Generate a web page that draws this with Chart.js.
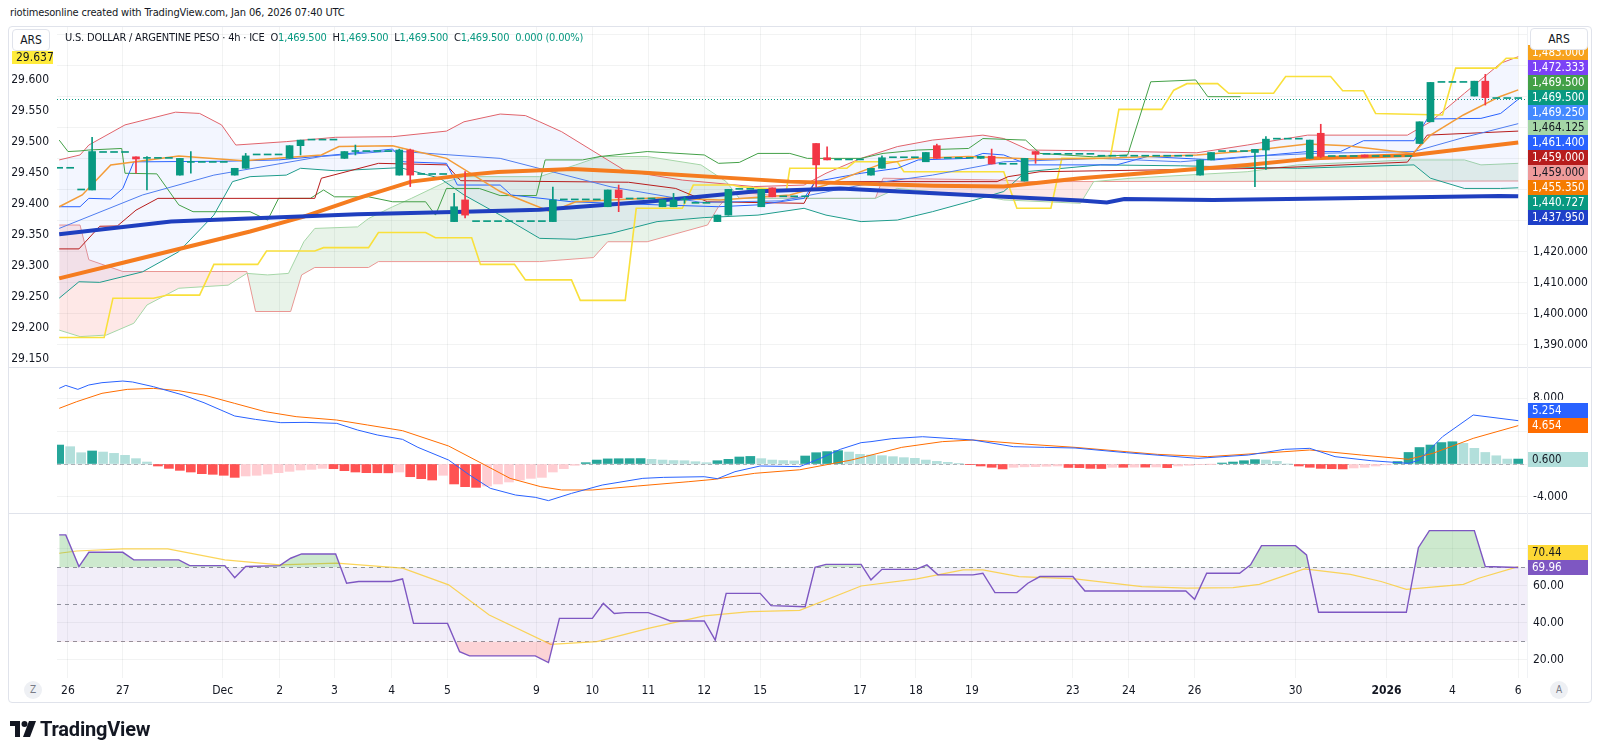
<!DOCTYPE html>
<html>
<head>
<meta charset="utf-8">
<script src="https://cdn.jsdelivr.net/npm/chart.js@4.4.1/dist/chart.umd.min.js"></script>
<style>
  body { margin:0; width:1600px; height:756px; background:#fff; position:relative; overflow:hidden;
         font-family:'Liberation Sans Narrow','DejaVu Sans Condensed',Roboto,sans-serif; color:#131722; }
  .abs { position:absolute; }
  #credit { left:10px; top:4px; font-size:11px; letter-spacing:-0.15px; line-height:18px; white-space:nowrap; }
  #frame { left:8px; top:26px; width:1584px; height:677px; border:1px solid #e0e3eb; border-radius:4px; box-sizing:border-box; }
  canvas { position:absolute; }
  .sep { position:absolute; left:8px; width:1584px; height:1px; background:#e0e3eb; }
  .ars { position:absolute; height:22px; border:1px solid #e0e3eb; border-radius:4px; background:#fff;
         font-size:12px; line-height:20px; text-align:center; box-sizing:border-box; }
  #title { left:65px; top:29px; font-size:11px; letter-spacing:-0.2px; line-height:17px; white-space:pre; }
  #title .v { color:#089981; }
  .btn { position:absolute; width:18px; height:18px; border-radius:50%; background:#eef0f4; font-size:10px;
         line-height:18px; text-align:center; color:#787b86; }
  #logo { left:10px; top:716px; height:26px; display:flex; align-items:center; gap:4px; }
  #logo span { font-family:Roboto,'Noto Sans',sans-serif; font-weight:bold; font-size:20px; color:#131722; letter-spacing:-0.2px; }
</style>
</head>
<body>
<div id="credit" class="abs">riotimesonline created with TradingView.com, Jan 06, 2026 07:40 UTC</div>
<div id="frame" class="abs"></div>

<canvas id="mainChart" width="1580" height="340" style="left:12px;top:27px;width:1580px;height:340px"></canvas>
<canvas id="macdChart" width="1580" height="145" style="left:12px;top:368px;width:1580px;height:145px"></canvas>
<canvas id="rsiChart" width="1580" height="188" style="left:12px;top:514px;width:1580px;height:188px"></canvas>

<div class="sep" style="top:367px"></div>
<div class="sep" style="top:513px"></div>
<div class="abs" style="left:1527px;top:27px;width:1px;height:651px;background:#f0f2f5"></div>

<div class="ars" style="left:12px;top:29px;width:38px">ARS</div>
<div class="ars" style="left:1530px;top:28px;width:58px">ARS</div>
<div id="title" class="abs">U.S. DOLLAR / ARGENTINE PESO · 4h · ICE  O<span class="v">1,469.500</span>  H<span class="v">1,469.500</span>  L<span class="v">1,469.500</span>  C<span class="v">1,469.500</span>  <span class="v">0.000 (0.00%)</span></div>

<div class="btn" style="left:24px;top:681px">Z</div>
<div class="btn" style="left:1550px;top:681px">A</div>

<div id="logo" class="abs">
  <svg width="26" height="16" viewBox="0 0 26 16"><path d="M0 0h10v16H5V5H0z" fill="#131722"/><circle cx="14.5" cy="3" r="3" fill="#131722"/><path d="M19 0h7l-6 16h-7z" fill="#131722"/></svg>
  <span>TradingView</span>
</div>

<script>
/* ── DATA ── */
// x = 4h bar index (0 = first bar on screen)
const X_TICKS = [0.8, 5.8, 14.9, 20.1, 25.1, 30.3, 35.4, 43.5, 48.6, 53.7, 58.8, 63.9, 73, 78.1, 83.2, 92.4, 97.5, 103.5, 112.7, 121, 127, 133];
const X_LABELS = ['26', '27', 'Dec', '2', '3', '4', '5', '9', '10', '11', '12', '15', '17', '18', '19', '23', '24', '26', '30', '2026', '4', '6'];

// [bar, open, high, low, close]
const CANDLES = [
  [3, 1440.0, 1457.0, 1440.0, 1452.4], [7, 1450.7, 1450.7, 1445.4, 1450.0], [8, 1450.2, 1450.8, 1440.0, 1450.2],
  [11, 1444.8, 1450.2, 1444.8, 1450.2], [12, 1448.9, 1452.4, 1445.4, 1448.9], [16, 1444.8, 1447.0, 1444.8, 1447.0],
  [17, 1447.0, 1451.8, 1447.0, 1451.0], [21, 1450.2, 1454.3, 1450.2, 1454.3], [22, 1454.3, 1456.1, 1451.3, 1456.1],
  [26, 1450.2, 1452.4, 1450.2, 1452.4], [27, 1452.4, 1454.5, 1451.3, 1452.4], [31, 1444.8, 1453.2, 1444.8, 1452.9],
  [32, 1452.9, 1453.2, 1441.1, 1444.8], [36, 1429.8, 1438.9, 1429.8, 1434.6], [37, 1436.8, 1445.9, 1431.0, 1431.9],
  [45, 1429.8, 1440.9, 1429.8, 1436.8], [50, 1434.6, 1440.0, 1434.6, 1440.0], [51, 1440.0, 1441.6, 1433.0, 1437.5],
  [55, 1434.6, 1436.8, 1434.6, 1436.8], [56, 1434.6, 1438.9, 1434.6, 1436.8], [57, 1436.8, 1437.8, 1435.7, 1436.8],
  [60, 1429.8, 1431.9, 1429.8, 1431.9], [61, 1431.9, 1440.2, 1431.9, 1440.2], [64, 1434.6, 1440.2, 1434.6, 1440.2],
  [65, 1440.7, 1440.7, 1437.8, 1437.8], [69, 1455.0, 1455.0, 1441.1, 1448.1], [70, 1450.4, 1453.9, 1449.7, 1449.7],
  [74, 1444.8, 1447.0, 1444.8, 1447.0], [75, 1447.0, 1451.0, 1447.0, 1450.4], [79, 1449.1, 1452.1, 1449.1, 1452.1],
  [80, 1454.3, 1454.8, 1450.2, 1450.2], [84, 1450.2, 1450.9, 1450.2, 1450.9], [85, 1450.9, 1453.2, 1448.4, 1448.4],
  [88, 1442.9, 1450.2, 1442.9, 1450.2], [89, 1452.4, 1452.4, 1448.6, 1451.5], [104, 1444.8, 1449.7, 1444.8, 1449.7],
  [105, 1449.7, 1452.1, 1449.7, 1452.1], [109, 1452.1, 1453.1, 1441.1, 1453.1], [110, 1452.9, 1457.2, 1446.6, 1456.4],
  [114, 1450.2, 1456.1, 1450.2, 1456.1], [115, 1458.3, 1461.2, 1450.4, 1450.8], [119, 1451.3, 1451.3, 1450.6, 1450.6],
  [124, 1455.0, 1462.0, 1455.0, 1462.0], [125, 1462.0, 1474.7, 1462.0, 1474.7], [129, 1470.3, 1475.1, 1470.3, 1475.1],
  [130, 1475.1, 1477.3, 1467.4, 1469.8]
];
// runs of bars with no movement: [firstBar, lastBar, price]
const FLAT_RUNS = [
  [0, 1, 1447.0], [2, 2, 1440.0], [4, 6, 1452.1], [9, 10, 1450.2], [13, 15, 1448.9], [18, 20, 1451.3],
  [23, 25, 1456.1], [28, 30, 1452.4], [33, 35, 1445.0], [38, 44, 1429.8], [46, 49, 1436.8], [52, 54, 1437.1],
  [58, 59, 1435.7], [62, 63, 1440.2], [66, 68, 1437.8], [71, 73, 1449.7], [76, 78, 1450.4], [81, 83, 1450.2],
  [86, 87, 1448.3], [90, 94, 1451.5], [95, 103, 1450.9], [106, 108, 1452.4], [111, 113, 1456.4],
  [116, 118, 1450.8], [120, 123, 1450.8], [126, 128, 1474.7], [131, 133, 1469.5]
];
const LAST_PRICE = 1469.5;

// overlays, [bar, value]
const EMA_SLOW = [[0,1425.7],[10.2,1429.8],[27.2,1432.2],[36.9,1433.0],[43.8,1433.6],[53.6,1436.2],[63.3,1439.5],[71.2,1440.5],[82.9,1438.4],[93.1,1436.6],[95.5,1436.0],[97.1,1437.1],[105.2,1436.8],[120.4,1437.5],[131.3,1438.1],[133,1437.95]];
const EMA_MID = [[0,1411.5],[6,1416.7],[17.4,1426.6],[22.3,1431.4],[27.2,1437.3],[32.1,1442.7],[36.9,1444.8],[40,1445.8],[46.8,1446.8],[51.9,1445.9],[66.6,1442.7],[79.7,1441.4],[86.1,1441.1],[93.1,1443.8],[108.3,1448.1],[114.3,1450.2],[123.4,1451.3],[133,1455.35]];
const BB_BASIS = [[0,1434.6],[2.1,1438.4],[4.7,1448.1],[10.9,1451.0],[16.8,1449.4],[23.9,1451.3],[25.5,1454.0],[30.4,1454.3],[31.4,1453.4],[35.3,1450.2],[40.2,1439.5],[44.8,1433.0],[47.1,1436.2],[54.6,1437.5],[60.2,1436.8],[66.6,1438.4],[69.9,1441.6],[74.7,1448.1],[78,1450.2],[82.9,1450.8],[89.4,1449.9],[94.9,1450.2],[103.7,1451.3],[108.3,1452.6],[113.8,1454.8],[117.4,1454.3],[123.4,1451.8],[125,1457.7],[128,1464.2],[131.3,1470.1],[133,1472.3]];
const BB_UPPER = [[0,1449.7],[1.9,1451.3],[2.7,1454.5],[6,1461.0],[10.6,1465.1],[12.8,1464.7],[14.8,1461.0],[16.1,1454.5],[20.7,1455.6],[25.2,1457.0],[30.4,1457.2],[35.3,1459.0],[36.9,1462.0],[40.2,1464.5],[42.5,1464.0],[43.8,1462.0],[45.8,1458.8],[51.6,1446.2],[56.8,1443.2],[63.3,1441.1],[67.9,1441.6],[69.9,1445.4],[73.1,1450.2],[76.4,1454.0],[79.6,1456.1],[84.2,1457.7],[86.1,1456.6],[88.4,1452.9],[94.9,1452.6],[97.7,1452.4],[103.7,1452.0],[108.3,1454.5],[113.8,1457.7],[122.9,1457.7],[125,1462.0],[128.1,1471.2],[131.4,1480.9],[133,1483.0]];
const BB_LOWER = [[0,1405.1],[1.8,1410.4],[3.7,1410.2],[7.6,1413.6],[10.9,1420.1],[14.1,1431.9],[15.8,1442.7],[17.4,1444.3],[20.7,1444.8],[22,1447.0],[25.2,1446.2],[31.1,1447.2],[34.7,1443.8],[36.9,1438.4],[40.2,1431.9],[43.8,1424.4],[47.1,1424.1],[50.3,1426.0],[54.5,1429.8],[58.8,1431.1],[63.7,1431.9],[67.9,1434.1],[69.9,1431.9],[73.1,1429.8],[76.4,1430.3],[79.6,1433.0],[82.9,1436.2],[86.1,1439.5],[88.1,1445.9],[94.9,1448.1],[102.2,1447.8],[112.9,1447.0],[123.5,1448.1],[125,1443.8],[128.1,1440.5],[131.4,1440.5],[133,1440.7]];
const SMA_BLUE = [[0,1427.6],[7.6,1438.4],[14.1,1444.8],[23.9,1450.8],[30.4,1452.6],[40.2,1450.2],[50.3,1441.0],[58.5,1436.0],[65.8,1436.5],[73.1,1441.6],[79.6,1444.8],[86.1,1449.1],[94.9,1450.2],[102.2,1449.1],[108.3,1450.8],[114.4,1451.8],[123.5,1452.4],[128.1,1457.0],[133,1461.4]];
const ICH_CONV = [[0,1434.6],[1.9,1434.6],[2.7,1437.3],[4.7,1437.1],[5.8,1440.5],[6.8,1449.1],[8,1449.1],[15.4,1449.3],[20,1449.7],[25.6,1451.5],[30.4,1453.2],[31.4,1449.1],[35.3,1448.6],[36.3,1441.6],[40.2,1441.6],[41.2,1438.4],[46.7,1436.2],[54.6,1435.2],[60.1,1434.6],[63.7,1435.2],[67.9,1437.3],[68.9,1442.7],[73.1,1445.4],[76.4,1447.0],[78.3,1449.7],[82.9,1450.2],[84.2,1451.8],[86.1,1451.3],[88.4,1448.1],[96.4,1448.1],[99.2,1450.8],[105.3,1449.7],[113.8,1452.4],[116.8,1452.4],[118.9,1455.9],[123.5,1455.9],[124.7,1462.9],[129.6,1463.1],[131.4,1464.7],[133,1469.25]];
const ICH_BASE = [[0,1421.0],[1.8,1421.0],[3.7,1428.3],[5.3,1428.4],[7,1433.5],[9,1437.3],[23.3,1437.3],[23.9,1443.8],[29.1,1448.6],[35.3,1448.1],[36.6,1443.0],[51.9,1442.5],[56.2,1440.5],[59.1,1436.2],[67.9,1435.7],[68.9,1442.7],[85.5,1442.7],[86.5,1444.3],[89.4,1445.9],[94.9,1446.2],[110,1447.0],[122.9,1449.0],[124.7,1457.7],[133,1459.0]];
const ICH_LAG = [[0,1456.1],[0.8,1452.4],[1.9,1452.6],[2.7,1452.9],[5.7,1453.4],[6,1445.4],[8.9,1445.2],[10.9,1435.2],[12.2,1433.0],[17.4,1433.0],[19,1430.3],[20,1437.3],[22.9,1437.3],[24.1,1440.0],[25.1,1437.8],[28.2,1437.8],[30.4,1436.2],[33.4,1436.2],[34.3,1431.9],[35.3,1440.5],[38.3,1440.5],[40.2,1438.2],[43.5,1438.2],[44.3,1449.7],[47.7,1449.7],[49.3,1450.8],[53.6,1452.4],[58.8,1451.3],[60.1,1448.6],[62,1448.9],[63.7,1451.8],[66.6,1451.8],[68.2,1450.2],[73.1,1450.2],[75.1,1451.8],[78.3,1452.9],[82.9,1453.4],[84.2,1456.6],[88.1,1456.1],[89.4,1451.8],[94.3,1450.7],[97.4,1451.3],[99.5,1474.9],[103.6,1475.5],[104.7,1470.1],[107.7,1470.1]];
const SPAN_A = [[0,1394.8],[1.9,1392.7],[4.3,1393.2],[6.8,1397.0],[8,1402.9],[10.9,1408.3],[15.4,1409.3],[17.1,1413.1],[19,1412.6],[20.9,1413.1],[22.3,1423.3],[23.3,1427.6],[27.2,1428.1],[28.2,1430.8],[30.4,1434.6],[32.1,1437.3],[35.3,1442.7],[36.9,1444.3],[43.8,1444.3],[47.1,1448.1],[49.3,1450.8],[53.6,1450.8],[58.5,1448.1],[60.8,1442.7],[62,1437.3],[74.4,1437.3],[76.4,1440.5],[84.5,1437.8],[86.1,1436.8],[93.1,1435.7],[94.3,1442.7],[97.7,1443.8],[108.3,1445.9],[112.9,1448.1],[122.9,1449.7],[128.1,1449.7],[129.6,1448.1],[133,1448.6]];
const SPAN_B = [[0,1428.7],[1.9,1428.7],[2.7,1417.5],[5.8,1413.7],[17.1,1413.7],[17.9,1400.8],[21.1,1400.8],[22.1,1412.6],[23.3,1415.0],[28.2,1415.0],[29.1,1416.9],[43.8,1416.9],[48.7,1418.2],[50,1423.3],[53.6,1423.3],[59.1,1428.7],[60.1,1434.6],[61.4,1439.5],[67.9,1437.3],[74.4,1437.3],[75.1,1443.8],[86.1,1443.2],[88.1,1442.7],[133,1442.9]];
const YELLOW_LINE = [[0,1392.4],[4.1,1392.4],[4.9,1405.1],[8.6,1405.1],[9.9,1406.1],[12.8,1406.1],[14.1,1416.0],[18.1,1416.0],[18.9,1420.3],[23.3,1420.3],[24.1,1421.4],[28.2,1421.4],[29.1,1426.3],[33.4,1426.3],[34.3,1424.6],[37.6,1424.6],[38.4,1416.0],[41.5,1416.0],[42.5,1411.0],[46.7,1411.0],[47.5,1404.4],[51.6,1404.4],[52.6,1434.1],[56.8,1434.1],[57.8,1441.6],[61.4,1441.6],[62,1441.1],[66.3,1440.0],[66.6,1447.0],[71.8,1447.0],[72.5,1449.1],[76.4,1449.1],[77,1445.9],[86.1,1445.9],[87.3,1434.1],[90.4,1434.1],[91.4,1450.2],[95.8,1450.2],[96.6,1466.0],[100.5,1466.0],[101.6,1472.2],[102.8,1474.3],[105.6,1474.3],[106.6,1471.2],[110.7,1471.2],[111.8,1476.6],[115.9,1476.6],[117,1472.0],[118.9,1472.0],[120,1464.7],[126.1,1464.2],[127.3,1479.3],[131,1479.3],[131.9,1482.5],[133,1482.5]];

// price scale tags (last values)
const MAIN_TAGS = [1483.0, 1472.333, 1469.5, 1469.5, 1469.25, 1464.125, 1461.4, 1459.0, 1459.0, 1455.35, 1440.727, 1437.95];
const LEFT_TAG = 29.637;

// MACD pane
const MACD_HIST = [2.3,2.1,1.37,1.58,1.45,1.29,1.05,0.65,0.24,-0.24,-0.53,-0.77,-0.97,-1.17,-1.25,-1.37,-1.62,-1.45,-1.37,-1.21,
  -1.05,-0.89,-0.73,-0.65,-0.53,-0.57,-0.81,-0.97,-1.05,-1.06,-1.07,-0.97,-1.54,-1.78,-1.94,-1.37,-2.42,-2.75,-2.83,-2.67,
  -2.42,-2.18,-1.94,-1.74,-1.62,-0.97,-0.57,-0.16,0.16,0.48,0.62,0.64,0.65,0.66,0.57,0.48,0.42,0.40,0.28,0.16,
  0.40,0.57,0.85,0.92,0.65,0.48,0.42,0.38,0.97,1.37,1.5,1.62,1.45,1.17,1.09,1.01,0.89,0.77,0.69,0.48,
  0.32,0.2,0.08,-0.04,-0.24,-0.4,-0.6,-0.4,-0.34,-0.32,-0.28,-0.24,-0.42,-0.44,-0.53,-0.55,-0.4,-0.4,-0.38,-0.38,
  -0.36,-0.44,-0.24,-0.16,-0.08,-0.02,0.12,0.24,0.4,0.53,0.48,0.32,0.0,-0.24,-0.4,-0.53,-0.57,-0.6,-0.48,-0.4,
  -0.24,-0.1,0.3,1.4,2.0,2.3,2.6,2.7,2.5,1.9,1.4,1.0,0.6,0.6];
const MACD_LINE = [[0,9.17],[0.6,9.53],[1.7,9.05],[2.7,9.58],[3.9,9.86],[5.8,10.06],[6.7,9.94],[8.6,9.37],[11.3,8.36],[13.2,7.43],[16,5.82],[17.9,5.41],[20.2,5.01],[22.5,5.05],[25.3,4.93],[27.2,4.12],[29,3.52],[31.3,2.99],[32.7,2.02],[35.5,0.48],[37.4,-1.33],[39.3,-2.95],[41.6,-3.76],[43.4,-4.04],[44.6,-4.44],[46.7,-3.56],[49.5,-2.55],[53.2,-1.74],[55.1,-1.62],[58.8,-1.54],[60,-1.78],[61.6,-0.93],[63.9,-0.24],[67.5,-0.32],[69.4,0.69],[71.2,1.78],[73.1,2.59],[74,2.71],[75.9,3.07],[78.7,3.31],[81.5,3.07],[83.3,2.91],[87,2.1],[89.8,2.02],[92.6,1.94],[97.3,1.37],[103.8,0.69],[108.4,1.09],[111.7,1.78],[114,1.9],[116.3,0.89],[119.6,0.4],[123,0.08],[124,0.48],[126.1,3.31],[128.9,5.94],[133,5.254]];
const SIGNAL_LINE = [[0,6.75],[1.6,7.56],[3.9,8.57],[6.2,9.05],[8.6,9.17],[10.9,8.89],[13.2,8.36],[16,7.35],[18.8,6.34],[21.6,5.74],[25.3,5.33],[28.1,4.73],[31.3,4.04],[35.5,2.18],[38.8,-0.12],[41.1,-1.74],[43.9,-2.75],[45.8,-3.15],[48.6,-3.15],[52.7,-2.67],[57.4,-2.14],[59.7,-1.86],[63.4,-1.13],[67.5,-0.7],[72.2,0.48],[76.8,2.02],[80.5,2.71],[83.3,2.91],[88,2.42],[92.6,2.02],[100.1,1.17],[104.7,0.89],[109.4,1.29],[114,1.7],[118.7,1.09],[123,0.57],[125.2,1.29],[128.9,3.11],[133,4.654]];
const MACD_TAGS = [5.254, 4.654, 0.6];

// RSI pane
const RSI_LINE = [[0,87.6],[0.6,87.6],[1.8,70.5],[2.7,78.2],[5.8,78.2],[6.8,74.1],[10.9,74.1],[11.9,71.0],[15.1,71.0],[16,64.5],[17,70.5],[20.1,71.0],[21.1,75.0],[22.1,77.3],[25.2,77.3],[26.2,61.5],[27.3,62.4],[30.3,62.4],[31.3,63.8],[32.3,39.8],[35.4,39.8],[36.5,24.5],[37.4,22.2],[43.4,22.2],[44.6,18.6],[45.6,42.5],[48.6,42.5],[49.6,50.6],[50.6,45.1],[51.6,45.6],[53.7,45.6],[54.7,43.4],[55.7,41.1],[58.8,41.1],[59.8,30.8],[60.8,56.0],[63.9,56.0],[64.9,49.4],[68,48.8],[68.9,70.1],[69.9,71.7],[73.1,71.7],[74,63.3],[75,69.0],[78.1,69.0],[79.1,71.4],[80.1,66.0],[83.3,66.0],[84.2,66.9],[85.3,56.4],[87.3,56.4],[88.3,61.5],[89.4,65.1],[92.4,65.1],[93.5,57.3],[102.7,57.3],[103.5,52.8],[104.6,66.9],[107.6,66.9],[108.6,71.4],[109.6,81.8],[112.7,81.8],[113.7,76.8],[114.8,45.8],[122.8,45.8],[123.9,80.7],[124.9,89.9],[129,89.9],[130,70.5],[133,69.96]];
const RSI_MA = [[0,77.7],[1.6,78.9],[5.8,80.0],[9.9,80.0],[15.1,74.1],[20.1,71.4],[25.3,72.3],[31.3,69.6],[35.5,60.6],[39.2,44.3],[44.8,28.5],[49,29.9],[53.7,37.1],[58.8,43.8],[63,46.1],[67.5,46.8],[73.1,60.0],[78.2,63.8],[82.4,68.7],[84.2,68.7],[87.5,65.1],[92.6,63.8],[98.7,59.7],[102.8,58.8],[107,59.1],[109.4,60.9],[113.5,69.2],[117.7,66.3],[120.5,62.4],[122.8,58.2],[128,60.9],[129.4,64.2],[133,70.44]];
const RSI_TAGS = [70.44, 69.96];
const RSI_LEVELS = [70, 50, 30];

/* ── STYLE ── */
const FONT = "'Liberation Sans Narrow', 'DejaVu Sans Condensed', Roboto, sans-serif";
const GRID = 'rgba(42,46,57,0.06)';
const UP = '#089981', DOWN = '#f23645';
const MAIN_TAG_BG = ['#f7a21b', '#7b42f6', '#43a047', '#089981', '#448aff', '#a5d6a7', '#2962ff', '#b71c1c', '#ef9a9a', '#f57c00', '#089981', '#1e3fc8'];
const MAIN_TAG_FG = ['#fff', '#fff', '#fff', '#fff', '#fff', '#131722', '#fff', '#fff', '#131722', '#fff', '#fff', '#fff'];

Chart.defaults.font.family = FONT;
Chart.defaults.font.size = 12;
Chart.defaults.color = '#131722';
Chart.defaults.animation = false;
Chart.defaults.events = [];
Chart.defaults.plugins.legend.display = false;
Chart.defaults.plugins.tooltip.enabled = false;
Chart.defaults.elements.point.radius = 0;
Chart.defaults.elements.line.tension = 0;

const fmt = (v, d) => v.toLocaleString('en-US', { minimumFractionDigits: d, maximumFractionDigits: d });
const pts = arr => arr.map(([x, y]) => ({ x, y }));
const range = (a, b) => Array.from({ length: b - a + 1 }, (_, k) => a + k);

/* ── AXES ── */
function xAxis(showLabels) {
  return {
    type: 'linear', min: -0.2, max: 133.8, offset: false,
    afterBuildTicks: s => { s.ticks = X_TICKS.map(value => ({ value })); },
    afterFit: s => { s.height = showLabels ? 24 : 0; s.paddingLeft = 0; s.paddingRight = 0; },
    grid: { color: GRID, drawTicks: false, offset: false },
    border: { display: false },
    ticks: {
      display: showLabels, autoSkip: false, maxRotation: 0, padding: 6,
      callback: (v, i) => X_LABELS[i],
      font: c => ({ size: 12, family: FONT, weight: X_LABELS[c.index] === '2026' ? 'bold' : 'normal' })
    }
  };
}
function rightAxis(min, max, step, digits) {
  return {
    type: 'linear', position: 'right', min, max,
    afterFit: s => { s.width = 65; s.paddingTop = 0; s.paddingBottom = 0; },
    grid: { color: GRID, drawTicks: false },
    border: { display: false },
    ticks: { stepSize: step, includeBounds: false, padding: 6, callback: v => fmt(v, digits) }
  };
}

/* ── PLUGINS ── */
function tagPlugin(values, bg, fg, digits, minTop) {
  return {
    id: 'tags',
    afterDraw(chart) {
      const { ctx, chartArea: a } = chart, y = chart.scales.y, h = 15;
      const list = values.map((v, k) => ({ v, bg: bg[k], fg: fg[k], py: y.getPixelForValue(v) }));
      list.sort((p, q) => p.py - q.py);
      for (let k = list.length - 2; k >= 0; k--) list[k].py = Math.min(list[k].py, list[k + 1].py - h);
      if (list[0].py < a.top + minTop) list[0].py = a.top + minTop;
      for (let k = 1; k < list.length; k++) list[k].py = Math.max(list[k].py, list[k - 1].py + h);
      ctx.save();
      // axis labels hidden under a tag are cleared first
      ctx.fillStyle = '#fff';
      list.forEach(t => ctx.fillRect(a.right + 1, Math.round(t.py - h / 2) - 3, 62, h + 6));
      ctx.font = '11.5px ' + FONT;
      ctx.textBaseline = 'middle';
      list.forEach(t => {
        const top = Math.round(t.py - h / 2);
        ctx.fillStyle = t.bg;
        ctx.fillRect(a.right + 1, top, 60, h);
        ctx.fillStyle = t.fg;
        ctx.fillText(fmt(t.v, digits), a.right + 5, top + h / 2 + 0.5);
      });
      ctx.restore();
    }
  };
}
function levelPlugin(lines, band) {
  return {
    id: 'levels',
    beforeDatasetsDraw(chart) {
      const { ctx, chartArea: a } = chart, y = chart.scales.y;
      ctx.save();
      if (band) {
        const y1 = y.getPixelForValue(band.from), y2 = y.getPixelForValue(band.to);
        ctx.fillStyle = band.color;
        ctx.fillRect(a.left, Math.min(y1, y2), a.right - a.left, Math.abs(y2 - y1));
      }
      lines.forEach(l => {
        const py = Math.round(y.getPixelForValue(l.value)) + 0.5;
        ctx.strokeStyle = l.color;
        ctx.lineWidth = 1;
        ctx.setLineDash(l.dash);
        ctx.beginPath();
        ctx.moveTo(a.left, py);
        ctx.lineTo(a.right, py);
        ctx.stroke();
      });
      ctx.restore();
    }
  };
}
const leftTagPlugin = {
  id: 'leftTag',
  afterDraw(chart) {
    const { ctx } = chart, s = chart.scales.yl;
    const py = Math.round(s.getPixelForValue(LEFT_TAG));
    ctx.save();
    ctx.fillStyle = '#ffeb3b';
    ctx.fillRect(0, py - 6, 41, 13);
    ctx.fillStyle = '#131722';
    ctx.font = '12px ' + FONT;
    ctx.textBaseline = 'middle';
    ctx.fillText(LEFT_TAG.toFixed(3), 4, py + 0.5);
    ctx.restore();
  }
};

/* ── MAIN PANE ── */
function buildMainChart() {
  const bars = [
    ...CANDLES.map(([i, o, h, l, c]) => ({ i, o, h, l, c })),
    ...FLAT_RUNS.flatMap(([a, b, p]) => range(a, b).map(i => ({ i, o: p, h: p, l: p, c: p })))
  ];
  const wicks = bars.filter(b => b.h > b.l);
  const line = (label, data, color, width, extra = {}) => ({
    type: 'line', label, data: pts(data), borderColor: color, borderWidth: width,
    pointRadius: 0, fill: false, yAxisID: 'y', ...extra
  });
  const ds = [
    { type: 'bar', label: 'body', data: bars.map(b => ({ x: b.i, y: [b.o, b.c] })),
      backgroundColor: bars.map(b => b.c < b.o ? DOWN : UP), barThickness: 7, minBarLength: 1,
      grouped: false, borderWidth: 0, yAxisID: 'y' },
    { type: 'bar', label: 'wick', data: wicks.map(b => ({ x: b.i, y: [b.l, b.h] })),
      backgroundColor: wicks.map(b => b.c < b.o ? DOWN : UP), barThickness: 1,
      grouped: false, borderWidth: 0, yAxisID: 'y' },
    line('emaSlow', EMA_SLOW, '#1f3fbf', 4),
    line('emaMid', EMA_MID, '#f57c1f', 4),
    line('bbBasis', BB_BASIS, '#f39c38', 1.5),
    line('sma', SMA_BLUE, '#4f7df0', 1),
    line('conv', ICH_CONV, '#2962ff', 1),
    line('base', ICH_BASE, '#b71c1c', 1),
    line('lag', ICH_LAG, '#43a047', 1),
    line('yellow', YELLOW_LINE, '#f9e03b', 1.6),
    line('bbUpper', BB_UPPER, '#e0636b', 1, { backgroundColor: 'rgba(41,98,255,0.055)' }),
    line('bbLower', BB_LOWER, '#1f9e89', 1),
    line('spanA', SPAN_A, '#a5d6a7', 1),
    line('spanB', SPAN_B, '#ef9a9a', 1)
  ];
  const at = name => ds.findIndex(d => d.label === name);
  ds[at('bbUpper')].fill = { target: at('bbLower') };
  ds[at('spanA')].fill = { target: at('spanB'), above: 'rgba(67,160,71,0.12)', below: 'rgba(244,67,54,0.12)' };

  new Chart(document.getElementById('mainChart'), {
    type: 'line',
    data: { datasets: ds },
    options: {
      responsive: false,
      layout: { padding: 0 },
      scales: {
        x: xAxis(false),
        y: rightAxis(1382.9, 1492.58, 10, 3),
        yl: {
          type: 'linear', position: 'left', min: 29.1371, max: 29.6855,
          afterBuildTicks: s => { s.ticks = s.ticks.filter(t => t.value <= 29.6 + 1e-6); },
          afterFit: s => { s.width = 45; s.paddingTop = 0; s.paddingBottom = 0; },
          grid: { display: false, drawTicks: false },
          border: { display: false },
          ticks: { stepSize: 0.05, includeBounds: false, padding: 8, callback: v => v.toFixed(3) }
        }
      }
    },
    plugins: [
      levelPlugin([{ value: LAST_PRICE, color: '#089981', dash: [1, 2] }]),
      tagPlugin(MAIN_TAGS, MAIN_TAG_BG, MAIN_TAG_FG, 3, 25),
      leftTagPlugin
    ]
  });
}

/* ── MACD PANE ── */
function buildMacdChart() {
  const histColors = MACD_HIST.map((v, i) => {
    const prev = i ? MACD_HIST[i - 1] : v;
    if (v >= 0) return v >= prev ? '#26a69a' : '#b2dfdb';
    return v <= prev ? '#ff5252' : '#ffcdd2';
  });
  new Chart(document.getElementById('macdChart'), {
    type: 'line',
    data: {
      datasets: [
        { type: 'line', data: pts(MACD_LINE), borderColor: '#2962ff', borderWidth: 1, pointRadius: 0 },
        { type: 'line', data: pts(SIGNAL_LINE), borderColor: '#ff6d00', borderWidth: 1, pointRadius: 0 },
        { type: 'bar', data: MACD_HIST.map((v, i) => ({ x: i, y: v })), backgroundColor: histColors,
          barThickness: 9, grouped: false, borderWidth: 0 }
      ]
    },
    options: {
      responsive: false,
      layout: { padding: { left: 45 } },
      scales: { x: xAxis(false), y: rightAxis(-5.94, 11.64, 4, 3) }
    },
    plugins: [
      levelPlugin([{ value: 0, color: 'rgba(120,123,134,0.55)', dash: [4, 3] }]),
      tagPlugin(MACD_TAGS, ['#2962ff', '#ff6d00', '#b2dfdb'], ['#fff', '#fff', '#131722'], 3, 8)
    ]
  });
}

/* ── RSI PANE ── */
function buildRsiChart() {
  new Chart(document.getElementById('rsiChart'), {
    type: 'line',
    data: {
      datasets: [
        { data: pts(RSI_LINE), borderColor: '#7e57c2', borderWidth: 1.4, pointRadius: 0,
          fill: { target: { value: RSI_LEVELS[0] }, above: 'rgba(76,175,80,0.28)', below: 'rgba(0,0,0,0)' } },
        { data: pts(RSI_LINE), borderColor: 'rgba(0,0,0,0)', borderWidth: 0, pointRadius: 0,
          fill: { target: { value: RSI_LEVELS[2] }, above: 'rgba(0,0,0,0)', below: 'rgba(242,54,69,0.22)' } },
        { data: pts(RSI_MA), borderColor: 'rgba(250,206,60,0.85)', borderWidth: 1.2, pointRadius: 0 }
      ]
    },
    options: {
      responsive: false,
      layout: { padding: { left: 45 } },
      scales: { x: xAxis(true), y: rightAxis(10.27, 98.9, 20, 2) }
    },
    plugins: [
      levelPlugin(RSI_LEVELS.map(value => ({ value, color: 'rgba(120,123,134,0.8)', dash: [4, 4] })),
        { from: RSI_LEVELS[0], to: RSI_LEVELS[2], color: 'rgba(126,87,194,0.1)' }),
      tagPlugin(RSI_TAGS, ['#fdd835', '#7e57c2'], ['#131722', '#fff'], 2, 8)
    ]
  });
}

/* ── INIT ── */
buildMainChart();
buildMacdChart();
buildRsiChart();
</script>
</body>
</html>
